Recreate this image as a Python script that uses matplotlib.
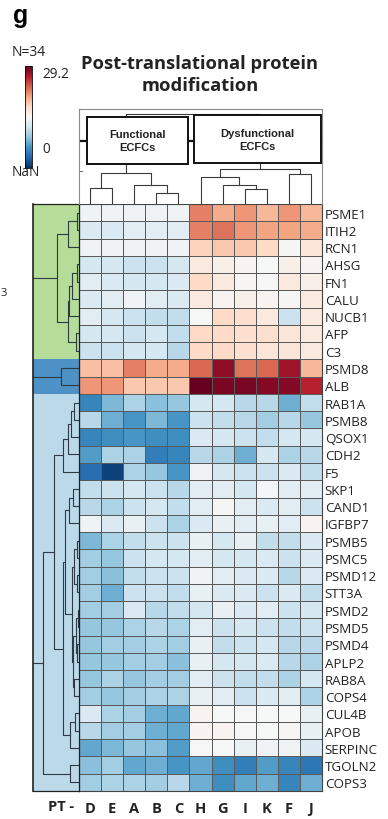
import numpy as np
import matplotlib
matplotlib.use("Agg")
import matplotlib.pyplot as plt
from matplotlib.patches import Rectangle

plt.rcParams['font.family'] = ['Open Sans', 'DejaVu Sans']

genes = ["PSME1", "ITIH2", "RCN1", "AHSG", "FN1", "CALU", "NUCB1", "AFP", "C3",
         "PSMD8", "ALB",
         "RAB1A", "PSMB8", "QSOX1", "CDH2", "F5", "SKP1", "CAND1", "IGFBP7",
         "PSMB5", "PSMC5", "PSMD12", "STT3A", "PSMD2", "PSMD5", "PSMD4", "APLP2",
         "RAB8A", "COPS4", "CUL4B", "APOB", "SERPINC", "TGOLN2", "COPS3"]
samples = ["D", "E", "A", "B", "C", "H", "G", "I", "K", "F", "J"]
vmax = 29.2

# columns: D E A B C | H G I K F J
values = [
    [14.0, 14.0, 14.0, 14.0, 14.0, 22.0, 20.0, 21.0, 19.5, 21.0, 19.5],
    [12.5, 12.5, 13.0, 13.0, 13.0, 22.0, 22.5, 21.0, 20.5, 20.5, 20.0],
    [14.0, 14.0, 14.0, 14.0, 14.0, 18.0, 18.5, 18.5, 17.5, 14.8, 16.5],
    [12.0, 12.0, 11.5, 11.5, 12.0, 16.0, 15.5, 15.0, 14.5, 15.5, 15.0],
    [13.0, 12.5, 12.0, 12.0, 12.5, 17.5, 16.0, 14.8, 14.6, 16.0, 15.5],
    [12.5, 13.0, 14.0, 13.0, 12.5, 16.0, 15.0, 15.5, 15.0, 14.8, 16.0],
    [13.0, 12.0, 11.5, 11.0, 11.0, 14.5, 17.5, 17.0, 16.0, 11.5, 16.0],
    [12.0, 12.0, 11.5, 12.0, 11.0, 17.5, 17.5, 17.0, 17.0, 16.5, 16.0],
    [11.5, 11.5, 12.0, 12.0, 10.5, 17.5, 17.5, 17.0, 16.5, 16.5, 16.0],
    [19.0, 19.0, 22.0, 20.0, 20.0, 23.0, 27.5, 22.5, 23.0, 27.0, 19.5],
    [21.0, 21.0, 18.5, 18.5, 18.5, 29.2, 28.5, 28.5, 28.0, 28.0, 26.0],
    [5.0, 8.0, 10.0, 8.5, 9.0, 12.0, 12.0, 10.5, 10.5, 7.5, 11.0],
    [10.5, 7.5, 6.0, 8.0, 6.0, 11.5, 11.0, 10.5, 9.5, 10.5, 9.0],
    [5.0, 5.5, 6.0, 5.5, 5.5, 12.5, 12.0, 11.5, 11.0, 12.0, 12.0],
    [6.5, 10.0, 10.0, 4.5, 5.0, 10.5, 10.0, 7.5, 12.0, 10.0, 10.5],
    [3.5, 1.0, 10.0, 9.0, 6.0, 14.0, 12.0, 11.5, 11.5, 12.5, 11.0],
    [11.0, 11.5, 12.0, 11.5, 10.5, 13.0, 13.0, 12.0, 14.3, 13.0, 13.0],
    [10.5, 10.0, 11.5, 12.0, 11.0, 13.0, 14.3, 13.0, 12.5, 13.0, 11.5],
    [14.0, 12.5, 13.5, 11.5, 10.0, 12.5, 13.5, 13.0, 13.5, 13.0, 15.0],
    [8.0, 10.0, 11.0, 11.5, 11.5, 13.5, 12.0, 13.5, 11.0, 11.0, 12.5],
    [9.5, 9.0, 11.5, 12.0, 12.0, 13.0, 12.0, 12.0, 12.5, 11.5, 12.5],
    [9.5, 8.5, 11.0, 11.5, 11.5, 14.0, 13.0, 12.5, 12.5, 10.5, 12.5],
    [9.5, 7.5, 11.5, 11.5, 11.0, 13.5, 12.5, 12.5, 11.5, 12.5, 11.0],
    [9.5, 9.5, 12.5, 10.5, 11.0, 12.0, 13.5, 12.5, 13.0, 11.5, 12.0],
    [9.0, 9.0, 10.0, 10.5, 10.0, 13.0, 11.5, 12.0, 11.5, 11.0, 11.5],
    [9.0, 9.5, 9.5, 10.0, 9.5, 13.5, 11.0, 11.5, 12.0, 10.5, 10.5],
    [9.0, 9.0, 9.5, 9.5, 8.5, 13.5, 12.0, 12.0, 12.5, 10.5, 10.0],
    [9.0, 10.0, 9.0, 9.5, 9.5, 13.0, 11.5, 11.0, 11.0, 10.0, 12.0],
    [9.5, 9.0, 9.5, 10.0, 10.0, 13.5, 13.0, 11.5, 12.5, 13.0, 10.0],
    [12.5, 10.0, 9.5, 7.5, 7.0, 15.0, 14.5, 14.6, 14.5, 14.5, 13.5],
    [10.5, 9.5, 9.5, 7.5, 7.0, 15.0, 15.0, 14.6, 14.5, 14.8, 13.5],
    [7.0, 8.0, 9.0, 8.5, 6.5, 14.6, 14.5, 13.5, 14.0, 14.0, 12.5],
    [8.5, 9.5, 7.0, 7.5, 6.0, 7.0, 5.5, 4.5, 6.5, 5.0, 4.0],
    [9.5, 10.0, 10.0, 9.5, 10.5, 7.5, 5.5, 7.0, 7.5, 5.0, 7.5],
]

# dendrograms as (left, right, height); ints are leaf indices
green_tree = (((0, 1, 0.04), 2, 0.25),
              ((((3, 4, 0.05), 5, 0.16), 6, 0.22), (7, 8, 0.065), 0.235), 0.47)
blue_tree = (9, 10, 0.39)
pale_tree = (((((11, 12, 0.11), 13, 0.17), 14, 0.24), 15, 0.35),
             ((((16, 17, 0.13), 18, 0.22),
               ((((19, 20, 0.05), (21, 22, 0.04), 0.1),
                 (((23, 24, 0.03), (25, 26, 0.04), 0.07), (27, 28, 0.1), 0.13), 0.15)),
               0.315),
              ((29, 30, 0.087), 31, 0.2), 0.35), 0.54)
pale_tree = (pale_tree, (32, 33, 0.2), 0.79)
row_clusters = [(green_tree, 0, 9, "#b5dc98"),
                (blue_tree, 9, 11, "#4d91c6"),
                (pale_tree, 11, 34, "#bcd9ea")]

func_tree = ((0, 1, 0.165), (2, (3, 4, 0.116), 0.203), 0.326)
dys_tree = ((5, (6, (7, 8, 0.158), 0.203), 0.284), (9, 10, 0.316), 0.368)
col_tree = (func_tree, dys_tree, 0.947)


def dendro_segments(node, segs):
    # returns (leaf position, height) of the node and collects the U links
    if isinstance(node, int):
        return node + 0.5, 0.0
    a, b, h = node
    pa, ha = dendro_segments(a, segs)
    pb, hb = dendro_segments(b, segs)
    segs.append(([pa, pa, pb, pb], [ha, h, h, hb]))
    return (pa + pb) / 2, h


W, H = 388, 820
fig = plt.figure(figsize=(W / 100, H / 100), dpi=100)


def box(x0, y0, x1, y1):
    return [x0 / W, 1 - y1 / H, (x1 - x0) / W, (y1 - y0) / H]


data = np.array(values)
cmap = plt.get_cmap("RdBu_r")

# heatmap
ax = fig.add_axes(box(79, 205, 322, 792))
mesh = ax.pcolormesh(data, cmap=cmap, vmin=0, vmax=vmax,
                     edgecolors="#5a5a5a", linewidth=0.5)
ax.set_xlim(0, len(samples))
ax.set_ylim(len(genes), 0)
ax.yaxis.tick_right()
ax.set_yticks(np.arange(len(genes)) + 0.5)
ax.set_yticklabels(genes, fontsize=9.6, color="#222222")
ax.set_xticks(np.arange(len(samples)) + 0.5)
ax.set_xticklabels(samples, fontsize=10.5, fontweight="bold", color="#222222")
ax.tick_params(length=0, pad=2)
ax.tick_params(axis="x", pad=7)
for s in ax.spines.values():
    s.set_color("#444444")
    s.set_linewidth(0.8)

# row dendrogram with cluster colours
axr = fig.add_axes(box(33, 205, 79, 792))
axr.set_xlim(1, 0)
axr.set_ylim(len(genes), 0)
for tree, lo, hi, col in row_clusters:
    axr.axhspan(lo, hi, color=col, lw=0)
    segs = []
    pos, h = dendro_segments(tree, segs)
    for xs, ys in segs:
        axr.plot(ys, xs, color="#2f3b44", lw=0.8)
    axr.plot([h, 1], [pos, pos], color="#2f3b44", lw=0.8)
axr.set_xticks([])
axr.set_yticks([])
for s in axr.spines.values():
    s.set_linewidth(0.9)
    s.set_color("#222222")
axr.spines["left"].set_linewidth(1.2)

# column dendrogram with group boxes
axc = fig.add_axes(box(79, 110, 322, 205))
axc.set_xlim(0, len(samples))
axc.set_ylim(0, 1)
segs = []
dendro_segments(col_tree, segs)
for xs, ys in segs:
    axc.plot(xs, ys, color="#3a3a3a", lw=0.8)
axc.plot([0, len(samples)], [0.665, 0.665], color="#111111", lw=1.6, zorder=2)
axc.plot([0, 0.12], [0.35, 0.35], color="#777777", lw=0.8)
axc.set_xticks([])
axc.set_yticks([])
for s in axc.spines.values():
    s.set_color("#8a8a8a")
    s.set_linewidth(0.8)
axc.spines["bottom"].set_visible(False)
groups = [("Functional\nECFCs", 0.35, 4.95, 0.42, 0.92),
          ("Dysfunctional\nECFCs", 5.2, 10.95, 0.43, 0.935)]
for label, x0, x1, y0, y1 in groups:
    axc.add_patch(Rectangle((x0, y0), x1 - x0, y1 - y0, facecolor="white",
                            edgecolor="#111111", lw=1.4, zorder=3))
    axc.text((x0 + x1) / 2, (y0 + y1) / 2, label, ha="center", va="center",
             fontsize=8, fontweight="bold", family="Liberation Sans",
             linespacing=1.35, color="#222222", zorder=4)

# colour bar
cax = fig.add_axes(box(25, 67, 32, 169))
cb = fig.colorbar(mesh, cax=cax)
cb.set_ticks([])
cb.outline.set_linewidth(0.6)

fig.text(12 / W, 1 - 53 / H, "N=34", fontsize=10, va="center", color="#222222")
fig.text(42 / W, 1 - 74 / H, "29.2", fontsize=9.8, va="center", color="#222222")
fig.text(42 / W, 1 - 150 / H, "0", fontsize=9.8, va="center", color="#222222")
fig.text(12 / W, 1 - 172 / H, "NaN", fontsize=9.8, va="center", color="#222222")
fig.text(1 / W, 1 - 293 / H, "3", fontsize=8, va="center", color="#222222")

fig.text(13 / W, 1 - 16 / H, "g", fontsize=18, fontweight="bold",
         family="Liberation Sans", va="center")
fig.text(200 / W, 1 - 75 / H, "Post-translational protein\nmodification",
         fontsize=13.2, fontweight="bold", ha="center", va="center",
         linespacing=1.3, color="#222222")
fig.text(61 / W, 1 - 807 / H, "PT -", fontsize=10.5, fontweight="bold",
         ha="center", va="center", color="#222222")

fig.savefig("out.png", dpi=100)
